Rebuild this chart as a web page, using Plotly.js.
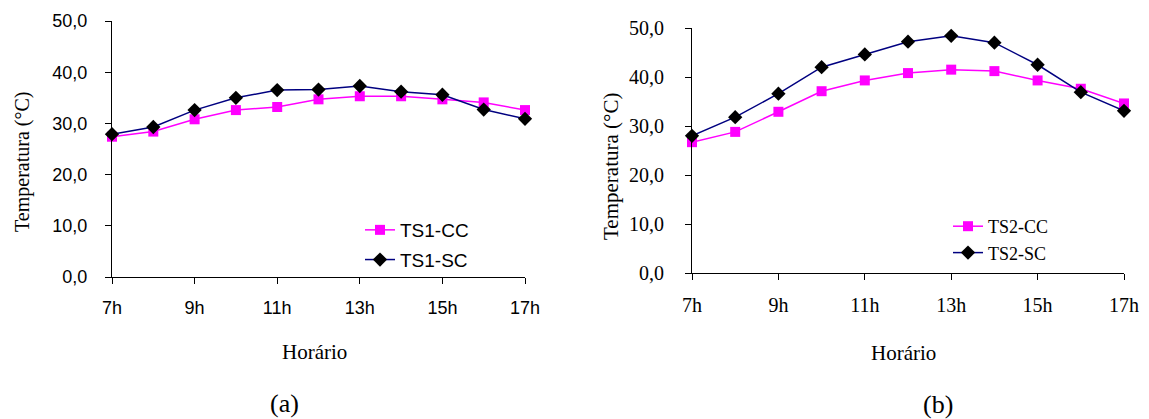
<!DOCTYPE html>
<html>
<head>
<meta charset="utf-8">
<script src="https://cdn.plot.ly/plotly-3.0.1.min.js"></script>
<style>html,body{margin:0;padding:0;background:#fff;}#chart{width:1149px;height:419px;}</style>
</head>
<body>
<div id="chart"></div>
<script>
// Data
var hours = [7, 8, 9, 10, 11, 12, 13, 14, 15, 16, 17];
var tickHours = [7, 9, 11, 13, 15, 17];
var tickLabels = ["7h", "9h", "11h", "13h", "15h", "17h"];
var ts1_cc = [27.4, 28.4, 30.8, 32.6, 33.2, 34.7, 35.3, 35.3, 34.7, 34.1, 32.6];
var ts1_sc = [27.9, 29.3, 32.6, 35.0, 36.5, 36.6, 37.3, 36.2, 35.6, 32.7, 30.9];
var ts2_cc = [26.7, 28.8, 32.9, 37.1, 39.3, 40.8, 41.5, 41.2, 39.3, 37.6, 34.6];
var ts2_sc = [28.0, 31.8, 36.6, 42.0, 44.6, 47.2, 48.4, 47.0, 42.5, 36.9, 33.1];
var names1 = ["TS1-CC", "TS1-SC"];
var names2 = ["TS2-CC", "TS2-SC"];
var yTitle = "Temperatura (°C)";
var xTitle = "Horário";
var captions = ["(a)", "(b)"];

var W = 1149, H = 419;
function px(x) { return x / W; }
function py(y) { return 1 - y / H; }

var SANS = "Liberation Sans";
var SERIF = "Liberation Serif";
var MAG = "#FF00FF", NAVY = "#000080";

function ccTrace(y, name, xa, ya, lg, grp) {
  return {x: hours, y: y, name: name, xaxis: xa, yaxis: ya, legend: lg, legendgroup: grp,
    type: "scatter", mode: "lines+markers", cliponaxis: false,
    line: {color: MAG, width: 1.5},
    marker: {symbol: "square", size: 10, color: MAG}};
}
function scTrace(y, name, xa, ya, lg, grp) {
  return {x: hours, y: y, name: name, xaxis: xa, yaxis: ya, legend: lg, legendgroup: grp,
    type: "scatter", mode: "lines+markers", cliponaxis: false,
    line: {color: NAVY, width: 1.5},
    marker: {symbol: "diamond", size: 11, color: "#000000"}};
}

var data = [
  ccTrace(ts1_cc, names1[0], "x", "y", "legend", "a1"),
  scTrace(ts1_sc, names1[1], "x", "y", "legend", "a2"),
  ccTrace(ts2_cc, names2[0], "x2", "y2", "legend2", "b1"),
  scTrace(ts2_sc, names2[1], "x2", "y2", "legend2", "b2")
];

function xAxis(domain, anchor, font, standoff) {
  return {domain: domain, anchor: anchor, range: [7, 17], showline: true, linecolor: "#000", linewidth: 1,
    showgrid: false, zeroline: false, tickmode: "array", tickvals: tickHours, ticktext: tickLabels,
    ticks: "outside", ticklen: 6, tickcolor: "#000", tickwidth: 1, tickfont: font,
    ticklabelstandoff: standoff};
}
function yAxis(domain, anchor, font, standoff) {
  return {domain: domain, anchor: anchor, range: [0, 50], dtick: 10, tick0: 0, tickformat: ".1f",
    showline: true, linecolor: "#000", linewidth: 1, showgrid: false, zeroline: false,
    ticks: "outside", ticklen: 6, tickcolor: "#000", tickwidth: 1, tickfont: font,
    ticklabelstandoff: standoff};
}

var leftFont = {family: SANS, size: 18, color: "#000"};
var rightFont = {family: SERIF, size: 20, color: "#000"};

function ann(text, x, y, size, angle) {
  return {text: text, xref: "paper", yref: "paper", x: px(x), y: py(y), xanchor: "center", yanchor: "middle",
    textangle: angle || 0, showarrow: false, font: {family: SERIF, size: size, color: "#000"}};
}

var layout = {
  width: W, height: H, margin: {l: 0, r: 0, t: 0, b: 0},
  paper_bgcolor: "#fff", plot_bgcolor: "#fff", separators: ",.",
  showlegend: true,
  xaxis: xAxis([px(112), px(525)], "y", leftFont, 8),
  yaxis: yAxis([py(277), py(21)], "x", leftFont, 14),
  xaxis2: xAxis([px(692), px(1124)], "y2", rightFont, 8),
  yaxis2: yAxis([py(273), py(28)], "x2", rightFont, 17),
  legend: {x: px(360), y: py(211), xanchor: "left", yanchor: "top", bgcolor: "rgba(0,0,0,0)",
    font: {family: SANS, size: 19, color: "#000"}, tracegroupgap: 2, traceorder: "grouped"},
  legend2: {x: px(948), y: py(208), xanchor: "left", yanchor: "top", bgcolor: "rgba(0,0,0,0)",
    font: {family: SERIF, size: 18, color: "#000"}, tracegroupgap: 0, traceorder: "grouped"},
  annotations: [
    ann(yTitle, 22, 162, 20, -90),
    ann(yTitle, 611, 167, 21, -90),
    ann(xTitle, 314, 352, 21),
    ann(xTitle, 903, 353, 21),
    ann(captions[0], 284, 403, 26),
    ann(captions[1], 938, 404, 26)
  ]
};

Plotly.newPlot("chart", data, layout, {staticPlot: true, displayModeBar: false});
</script>
</body>
</html>
